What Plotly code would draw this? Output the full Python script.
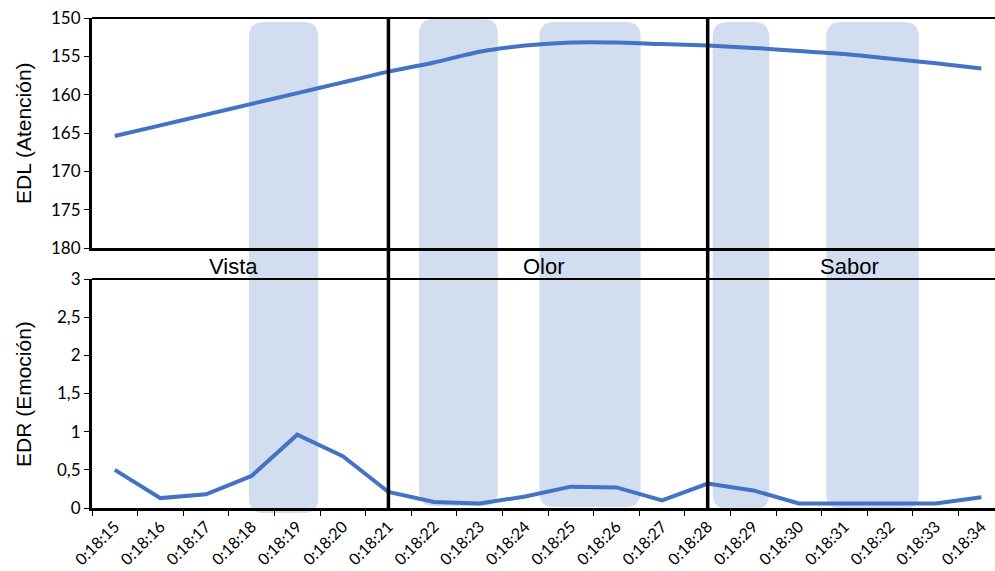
import plotly.graph_objects as go
from plotly.subplots import make_subplots

# Time stamps (one sample per second)
times = ["0:18:15", "0:18:16", "0:18:17", "0:18:18", "0:18:19", "0:18:20", "0:18:21",
         "0:18:22", "0:18:23", "0:18:24", "0:18:25", "0:18:26", "0:18:27", "0:18:28",
         "0:18:29", "0:18:30", "0:18:31", "0:18:32", "0:18:33", "0:18:34"]

# Electrodermal level (attention)
edl = [165.4, 164.0, 162.6, 161.2, 159.8, 158.4, 157.0, 155.8, 154.4, 153.6,
       153.2, 153.2, 153.4, 153.6, 153.9, 154.3, 154.7, 155.3, 155.9, 156.6]

# Electrodermal response (emotion)
edr = [0.50, 0.13, 0.18, 0.42, 0.96, 0.68, 0.21, 0.08, 0.06, 0.15,
       0.28, 0.27, 0.10, 0.32, 0.23, 0.06, 0.06, 0.06, 0.06, 0.14]

# Phases of the tasting and the sample index where each phase starts
phase_names = ["Vista", "Olor", "Sabor"]
phase_label_x = [2.6, 9.4, 16.1]
phase_breaks = [6, 13]

# Stimulus periods (start / end as fractional sample index)
stim_start = [2.94, 6.67, 9.31, 13.11, 15.60]
stim_end = [4.46, 8.40, 11.53, 14.35, 17.63]

idx = list(range(len(times)))
BLUE = "#4472C4"
SHADE = "rgb(210,222,239)"
YTICK_FONT = dict(family="Lato, Carlito, sans-serif", size=17, color="black")
XTICK_FONT = dict(family="Lato, Carlito, sans-serif", size=16, color="black")
TITLE_FONT = dict(family="Liberation Sans, Arial, sans-serif", size=21, color="black")
LABEL_FONT = dict(family="Liberation Sans, Arial, sans-serif", size=22, color="black")

W, H = 995, 571
ML, MR, MT, MB = 92, 0, 18, 63
plot_h = H - MT - MB


def py(px):
    """Convert a pixel row to paper y."""
    return (H - MB - px) / plot_h


fig = make_subplots(rows=2, cols=1, vertical_spacing=0.0)

fig.add_trace(go.Scatter(x=idx, y=edl, mode="lines",
                         line=dict(color=BLUE, width=4, shape="spline", smoothing=0.6),
                         showlegend=False), row=1, col=1)
fig.add_trace(go.Scatter(x=idx, y=edr, mode="lines", line=dict(color=BLUE, width=4),
                         showlegend=False), row=2, col=1)

xcommon = dict(range=[-0.5, 19.3], showgrid=False, zeroline=False, showline=True,
               linecolor="black", linewidth=3, fixedrange=True)
fig.update_layout(
    xaxis=dict(**xcommon, domain=[0, 1], showticklabels=False, ticks=""),
    xaxis2=dict(**xcommon, domain=[0, 1], tickmode="array", tickvals=idx, ticktext=times,
                tickangle=-45, tickfont=XTICK_FONT, ticks="", ticklen=0,
                minor=dict(ticks="outside", tick0=-0.5, dtick=1, ticklen=5, tickcolor="black", tickwidth=1)),
    yaxis=dict(domain=[py(248), 1.0], range=[180, 150], dtick=5, showgrid=False, zeroline=False,
               showline=True, linecolor="black", linewidth=3, ticks="outside", ticklen=5,
               tickcolor="black", tickfont=YTICK_FONT, fixedrange=True),
    yaxis2=dict(domain=[0, py(279)], range=[0, 3], dtick=0.5, showgrid=False, zeroline=False,
                showline=True, linecolor="black", linewidth=3, ticks="outside", ticklen=5,
                tickcolor="black", tickfont=YTICK_FONT, fixedrange=True),
    width=W, height=H, margin=dict(l=ML, r=MR, t=MT, b=MB, autoexpand=False),
    paper_bgcolor="white", plot_bgcolor="rgba(0,0,0,0)",
    separators=",.",
    showlegend=False,
)
fig.update_xaxes(automargin=False)
fig.update_yaxes(automargin=False)

# Rounded shaded stimulus bands, spanning both panels
rx = 0.33
ry = 15 / plot_h
top_px = [22, 19, 22, 22, 22]
bot_px = [513, 506, 507, 509, 509]
for x0, x1, tp, bp in zip(stim_start, stim_end, top_px, bot_px):
    y1, y0 = py(tp), py(bp)
    path = (f"M {x0 + rx},{y1} L {x1 - rx},{y1} Q {x1},{y1} {x1},{y1 - ry} "
            f"L {x1},{y0 + ry} Q {x1},{y0} {x1 - rx},{y0} L {x0 + rx},{y0} "
            f"Q {x0},{y0} {x0},{y0 + ry} L {x0},{y1 - ry} Q {x0},{y1} {x0 + rx},{y1} Z")
    fig.add_shape(type="path", path=path, xref="x", yref="paper", fillcolor=SHADE,
                  line=dict(width=0), layer="below")

# Top borders of both panels
for ytop in [1.0, py(279)]:
    fig.add_shape(type="line", xref="paper", yref="paper", x0=0, x1=1, y0=ytop, y1=ytop,
                  line=dict(color="black", width=2), layer="above")

# Phase separators
for b in phase_breaks:
    fig.add_shape(type="line", xref="x", yref="paper", x0=b, x1=b, y0=py(510), y1=1.0,
                  line=dict(color="black", width=3.5), layer="above")

# Phase names
for name, xl in zip(phase_names, phase_label_x):
    fig.add_annotation(x=xl, y=py(266), xref="x", yref="paper", text=name, showarrow=False,
                       font=LABEL_FONT, xanchor="center", yanchor="middle")

# Axis titles
fig.add_annotation(x=(23 - ML) / (W - ML - MR), y=py(133), xref="paper", yref="paper",
                   text="EDL (Atención)", textangle=-90, showarrow=False, font=TITLE_FONT,
                   xanchor="center", yanchor="middle")
fig.add_annotation(x=(23 - ML) / (W - ML - MR), y=py(394), xref="paper", yref="paper",
                   text="EDR (Emoción)", textangle=-90, showarrow=False, font=TITLE_FONT,
                   xanchor="center", yanchor="middle")

fig.write_html("out.html")
